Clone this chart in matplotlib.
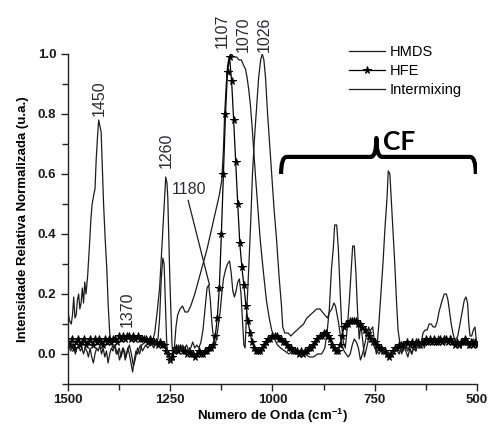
import numpy as np
import matplotlib
matplotlib.use("Agg")
import matplotlib.pyplot as plt
from matplotlib.path import Path
from matplotlib.patches import PathPatch
from matplotlib.ticker import MultipleLocator

plt.rcParams['font.family'] = ['Liberation Sans', 'DejaVu Sans']
plt.rcParams['mathtext.fontset'] = 'custom'
plt.rcParams['mathtext.rm'] = 'Liberation Sans'
plt.rcParams['mathtext.bf'] = 'Liberation Sans:bold'

# ---------------- data ----------------
hmds_wn = [1500, 1496, 1492, 1489, 1486, 1483, 1480, 1477, 1474, 1471, 1468, 1465, 1462, 1459, 1456, 1452,
           1448, 1444, 1441, 1437, 1434, 1431, 1428, 1425, 1422, 1419, 1416, 1413, 1409, 1405, 1402, 1398,
           1395, 1390, 1385, 1380, 1375, 1370, 1365, 1360, 1355, 1350, 1345, 1340, 1336, 1330, 1325, 1320,
           1310, 1300, 1292, 1288, 1282, 1276, 1272, 1268, 1264, 1261, 1258, 1256, 1253, 1251, 1248, 1246,
           1243, 1240, 1236, 1232, 1226, 1220, 1214, 1207, 1200, 1190, 1180, 1170, 1160, 1150, 1140, 1130,
           1124, 1120, 1117, 1113, 1110, 1106, 1100, 1095, 1088, 1082, 1076, 1070, 1066, 1062, 1058, 1054,
           1050, 1046, 1042, 1036, 1030, 1022, 1015, 1008, 1002, 995, 988, 980, 970, 960, 950, 940,
           930, 920, 910, 900, 890, 880, 872, 866, 861, 856, 851, 848, 843, 839, 835, 831,
           827, 822, 817, 812, 808, 804, 800, 796, 792, 788, 784, 779, 775, 770, 765, 760,
           755, 750, 746, 740, 735, 730, 725, 720, 717, 713, 709, 705, 701, 697, 693, 689,
           684, 679, 674, 669, 664, 659, 654, 649, 644, 639, 634, 629, 624, 619, 614, 609,
           604, 599, 594, 589, 584, 579, 574, 569, 564, 559, 554, 549, 544, 539, 534, 529,
           524, 519, 514, 509, 504, 500]
hmds_val = [0.14, 0.11, 0.10, 0.13, 0.19, 0.12, 0.13, 0.18, 0.20, 0.15, 0.17, 0.22, 0.17, 0.24, 0.20, 0.26,
            0.35, 0.45, 0.50, 0.53, 0.55, 0.65, 0.72, 0.78, 0.76, 0.74, 0.62, 0.50, 0.38, 0.28, 0.17, 0.07,
            0.04, 0.02, 0.03, 0.00, 0.02, -0.01, 0.02, -0.02, 0.01, 0.03, 0.00, -0.04, -0.02, 0.02, 0.00, 0.03,
            0.04, 0.03, 0.05, 0.07, 0.14, 0.22, 0.32, 0.42, 0.52, 0.59, 0.57, 0.52, 0.35, 0.25, 0.12, 0.04,
            -0.02, 0.02, 0.09, 0.13, 0.15, 0.16, 0.14, 0.14, 0.16, 0.20, 0.25, 0.30, 0.35, 0.41, 0.47, 0.53,
            0.58, 0.68, 0.80, 0.90, 0.96, 0.99, 1.00, 0.99, 0.99, 0.98, 0.98, 0.96, 0.95, 0.92, 0.88, 0.83,
            0.76, 0.68, 0.60, 0.49, 0.38, 0.27, 0.18, 0.12, 0.08, 0.05, 0.03, 0.02, 0.01, 0.00, 0.01, 0.00,
            -0.01, 0.00, -0.01, -0.01, 0.00, 0.00, 0.02, 0.08, 0.15, 0.28, 0.36, 0.43, 0.43, 0.35, 0.22, 0.10,
            0.04, 0.02, 0.09, 0.18, 0.27, 0.36, 0.36, 0.27, 0.14, 0.05, 0.10, 0.04, -0.01, 0.02, 0.05, 0.08,
            0.09, 0.03, 0.00, 0.10, 0.20, 0.30, 0.42, 0.52, 0.61, 0.60, 0.50, 0.40, 0.30, 0.18, 0.08, 0.04,
            0.00, 0.03, 0.01, -0.01, 0.02, 0.00, 0.03, 0.01, 0.04, 0.02, 0.05, 0.02, 0.04, 0.03, 0.05, 0.03,
            0.05, 0.03, 0.06, 0.04, 0.05, 0.03, 0.05, 0.04, 0.06, 0.03, 0.05, 0.03, 0.04, 0.02, 0.05, 0.03,
            0.05, 0.02, 0.04, 0.05, 0.03, 0.04]

mix_wn = [1500, 1496, 1493, 1490, 1486, 1482, 1478, 1474, 1470, 1466, 1462, 1458, 1454, 1450, 1446, 1442,
          1438, 1434, 1430, 1426, 1422, 1418, 1414, 1410, 1406, 1402, 1398, 1394, 1390, 1386, 1382, 1378,
          1374, 1370, 1366, 1362, 1358, 1354, 1350, 1346, 1342, 1338, 1334, 1330, 1326, 1322, 1318, 1314,
          1310, 1305, 1300, 1295, 1290, 1285, 1280, 1276, 1272, 1268, 1265, 1262, 1259, 1256, 1252, 1248,
          1244, 1240, 1235, 1230, 1225, 1220, 1215, 1210, 1205, 1200, 1195, 1190, 1185, 1180, 1175, 1170,
          1165, 1160, 1156, 1152, 1148, 1144, 1140, 1136, 1132, 1128, 1124, 1120, 1115, 1110, 1105, 1101,
          1097, 1093, 1089, 1085, 1081, 1077, 1073, 1070, 1067, 1064, 1061, 1057, 1053, 1049, 1044, 1039,
          1034, 1029, 1025, 1021, 1017, 1012, 1007, 1002, 996, 990, 984, 978, 975, 970, 962, 955,
          948, 940, 932, 924, 916, 908, 900, 892, 884, 878, 872, 866, 860, 855, 850, 846,
          842, 838, 834, 830, 825, 820, 815, 810, 805, 800, 795, 790, 785, 780, 775, 770,
          765, 760, 755, 750, 745, 740, 735, 730, 725, 720, 715, 710, 705, 700, 695, 690,
          685, 680, 675, 670, 665, 660, 655, 650, 645, 640, 636, 632, 627, 622, 617, 612,
          607, 602, 597, 593, 589, 585, 580, 575, 571, 567, 563, 559, 555, 551, 547, 543,
          539, 535, 531, 527, 523, 520, 517, 513, 509, 505, 502, 500]
mix_val = [0.05, 0.02, 0.01, 0.03, 0.02, 0.00, 0.02, 0.03, 0.01, 0.02, 0.00, 0.02, 0.01, -0.01, 0.02, -0.01,
           -0.03, 0.00, 0.02, 0.01, 0.03, 0.00, 0.02, -0.01, 0.01, -0.03, 0.00, 0.02, 0.01, 0.03, 0.00, 0.01,
           -0.02, 0.00, 0.02, 0.01, -0.01, 0.02, 0.00, -0.03, -0.06, -0.02, 0.01, 0.00, 0.02, 0.03, 0.01, 0.02,
           0.03, 0.02, 0.03, 0.03, 0.02, 0.04, 0.05, 0.12, 0.25, 0.32, 0.30, 0.18, 0.05, -0.01, -0.03, -0.01,
           0.01, 0.02, 0.00, 0.03, 0.01, 0.03, 0.02, 0.03, 0.01, 0.02, 0.04, 0.02, 0.03, 0.02, 0.04, 0.08,
           0.15, 0.22, 0.23, 0.18, 0.10, 0.05, 0.03, 0.06, 0.10, 0.14, 0.20, 0.25, 0.28, 0.30, 0.31, 0.27,
           0.21, 0.19, 0.21, 0.24, 0.25, 0.20, 0.10, 0.03, 0.02, 0.12, 0.20, 0.32, 0.45, 0.60, 0.72, 0.82,
           0.92, 0.98, 1.00, 0.98, 0.92, 0.80, 0.70, 0.60, 0.48, 0.38, 0.26, 0.16, 0.09, 0.07, 0.07, 0.06,
           0.07, 0.08, 0.09, 0.10, 0.12, 0.13, 0.14, 0.15, 0.15, 0.14, 0.13, 0.12, 0.14, 0.15, 0.17, 0.16,
           0.13, 0.10, 0.06, 0.03, 0.01, 0.00, -0.01, 0.00, 0.03, 0.05, 0.04, 0.02, -0.02, 0.00, 0.03, 0.06,
           0.09, 0.07, 0.04, 0.02, 0.01, 0.00, 0.01, 0.00, 0.02, 0.01, 0.00, 0.01, 0.00, 0.02, 0.01, 0.00,
           0.02, 0.01, 0.03, 0.01, 0.02, 0.00, 0.02, 0.01, 0.03, 0.02, 0.04, 0.07, 0.08, 0.08, 0.10, 0.10,
           0.09, 0.09, 0.11, 0.14, 0.16, 0.18, 0.20, 0.20, 0.18, 0.14, 0.10, 0.07, 0.05, 0.05, 0.06, 0.09,
           0.12, 0.15, 0.18, 0.19, 0.17, 0.10, 0.06, 0.06, 0.08, 0.09, 0.05, 0.03]

# HFE sampled every 5 cm-1, in segments (start wavenumber, values)
hfe_seg1_start = 1500
hfe_seg1 = [0.04, 0.03, 0.05, 0.02, 0.04, 0.05, 0.03, 0.04, 0.05, 0.03, 0.04, 0.05, 0.03, 0.05, 0.04, 0.05,
            0.04, 0.03, 0.05, 0.04, 0.05, 0.04, 0.05, 0.05, 0.04, 0.06, 0.05, 0.06, 0.05, 0.06, 0.06, 0.05,
            0.06, 0.05, 0.06, 0.05, 0.05, 0.05, 0.05, 0.04, 0.05, 0.04, 0.04, 0.04, 0.03, 0.04, 0.03, 0.03,
            0.01, 0.00, -0.02]
hfe_seg2_start = 1245
hfe_seg2 = [-0.01, 0.01, 0.02, 0.01, 0.02, 0.01, 0.01, 0.00, 0.01, 0.00, 0.00, -0.01, 0.00, 0.01, 0.00, 0.00,
            0.01, 0.01, 0.02, 0.02, 0.03, 0.06]
hfe_seg3_start = 1135
hfe_seg3 = [0.12, 0.22, 0.40, 0.60, 0.80, 0.94, 0.99, 0.91, 0.78, 0.64, 0.50, 0.37, 0.29, 0.23, 0.16, 0.11,
            0.07, 0.04, 0.02, 0.01]
hfe_seg4_start = 1035
hfe_seg4 = [0.01, 0.01, 0.02, 0.03, 0.04, 0.05, 0.05, 0.06, 0.06, 0.06, 0.05, 0.05, 0.04, 0.04, 0.03, 0.02,
            0.02, 0.01, 0.01, 0.01, 0.00, 0.01, 0.00, 0.01, 0.01, 0.02, 0.02, 0.03, 0.04, 0.05, 0.06, 0.06,
            0.07, 0.07, 0.06, 0.05, 0.03, 0.02, 0.01, 0.01, 0.03, 0.06, 0.09, 0.10, 0.10, 0.11, 0.11, 0.11,
            0.11, 0.10, 0.10, 0.09, 0.08, 0.07, 0.06, 0.05, 0.04, 0.04, 0.03, 0.02, 0.02, 0.01, 0.01, 0.00,
            -0.01, 0.00, 0.01, 0.02, 0.02, 0.03, 0.03, 0.03, 0.03, 0.04, 0.03, 0.04, 0.03, 0.04, 0.04, 0.03,
            0.04, 0.04, 0.05, 0.04, 0.05, 0.04, 0.05, 0.04, 0.04, 0.05, 0.04, 0.05, 0.05, 0.04, 0.05, 0.04,
            0.03, 0.04, 0.03, 0.04, 0.04, 0.05, 0.04, 0.03, 0.04, 0.03, 0.04, 0.03]
hfe_step = 5

series_names = ["HMDS", "HFE", "Intermixing"]
peak_labels = ["1450", "1370", "1260", "1107", "1070", "1026"]
peak_label_pos = [(1423, 0.795), (1354, 0.09), (1261, 0.62), (1122, 1.02), (1071, 1.008), (1020, 1.008)]
x_ticks = [1500, 1250, 1000, 750, 500]
y_ticks = [0.0, 0.2, 0.4, 0.6, 0.8, 1.0]

# ---------------- build HFE ----------------
hfe_wn, hfe_val = [], []
for start, seg in [(hfe_seg1_start, hfe_seg1), (hfe_seg2_start, hfe_seg2),
                   (hfe_seg3_start, hfe_seg3), (hfe_seg4_start, hfe_seg4)]:
    hfe_wn += [start - hfe_step * i for i in range(len(seg))]
    hfe_val += seg

# ---------------- figure ----------------
fig = plt.figure(figsize=(4.88, 4.29), dpi=100)
ax = fig.add_axes([68 / 488, 45 / 429, 409 / 488, 330 / 429])

line_col = '#1c1c1c'
ax.plot(hmds_wn, hmds_val, color=line_col, lw=0.9, label=series_names[0])
ax.plot(hfe_wn, hfe_val, color='black', lw=0.9, marker='*', markersize=5.5,
        markeredgewidth=0.7, label=series_names[1])
ax.plot(mix_wn, mix_val, color=line_col, lw=0.9, label=series_names[2])

ax.set_xlim(1500, 500)
ax.set_ylim(-0.1, 1.0)
ax.set_xticks(x_ticks)
ax.xaxis.set_minor_locator(MultipleLocator(125))
ax.set_yticks(y_ticks)
ax.yaxis.set_minor_locator(MultipleLocator(0.1))
ax.set_yticklabels([f"{v:.1f}" for v in y_ticks])

for s in ['top', 'right']:
    ax.spines[s].set_visible(False)
for s in ['left', 'bottom']:
    ax.spines[s].set_linewidth(1.0)
    ax.spines[s].set_color('#222222')

ax.tick_params(which='both', direction='out', length=5, width=1.0, color='#222222')
ax.tick_params(which='minor', length=4)
ax.tick_params(axis='x', which='major', pad=2.5)
for lab in ax.get_xticklabels() + ax.get_yticklabels():
    lab.set_fontweight('bold')
    lab.set_fontsize(9.5)
    lab.set_color('#1a1a1a')

ax.set_ylabel("Intensidade Relativa Normalizada (u.a.)", fontsize=9.5, fontweight='bold', labelpad=6)
ax.set_xlabel(r"Numero de Onda (cm$^{\mathbf{-1}}$)", fontsize=9.5, fontweight='bold', labelpad=0.5)

lab_col = '#2a2a35'
for txt, (xw, yv) in zip(peak_labels, peak_label_pos):
    ax.text(xw, yv, txt, rotation=90, ha='center', va='bottom', fontsize=11.5,
            color=lab_col, clip_on=False)

ax.annotate("1180", xy=(1154, 0.23), xytext=(1246, 0.547), ha='left', va='center',
            fontsize=11.5, color=lab_col,
            arrowprops=dict(arrowstyle='-', color=line_col, lw=0.9,
                            shrinkA=0, shrinkB=0, relpos=(0.45, 0.0)))

# CF brace
verts = [(979, 0.600), (979, 0.657), (965, 0.657), (760, 0.657), (746, 0.657), (746, 0.720),
         (746, 0.657), (732, 0.657), (517, 0.657), (503, 0.657), (503, 0.600)]
codes = [Path.MOVETO, Path.CURVE3, Path.CURVE3, Path.LINETO, Path.CURVE3, Path.CURVE3,
         Path.CURVE3, Path.CURVE3, Path.LINETO, Path.CURVE3, Path.CURVE3]
ax.add_patch(PathPatch(Path(verts, codes), fill=False, lw=3, color='black',
                       capstyle='butt', joinstyle='round'))
ax.text(729, 0.705, "CF", fontsize=19, fontweight='bold', family=['Lato', 'DejaVu Sans'],
        ha='left', va='center', color='black')

leg = ax.legend(loc='upper left', bbox_to_anchor=(349 / 488, (429 - 45) / 429), bbox_transform=fig.transFigure,
                frameon=False, fontsize=10.5, handlelength=2.5, handletextpad=0.3,
                labelspacing=0.35, numpoints=1, borderaxespad=0, borderpad=0)

fig.savefig("out.png", dpi=100)
